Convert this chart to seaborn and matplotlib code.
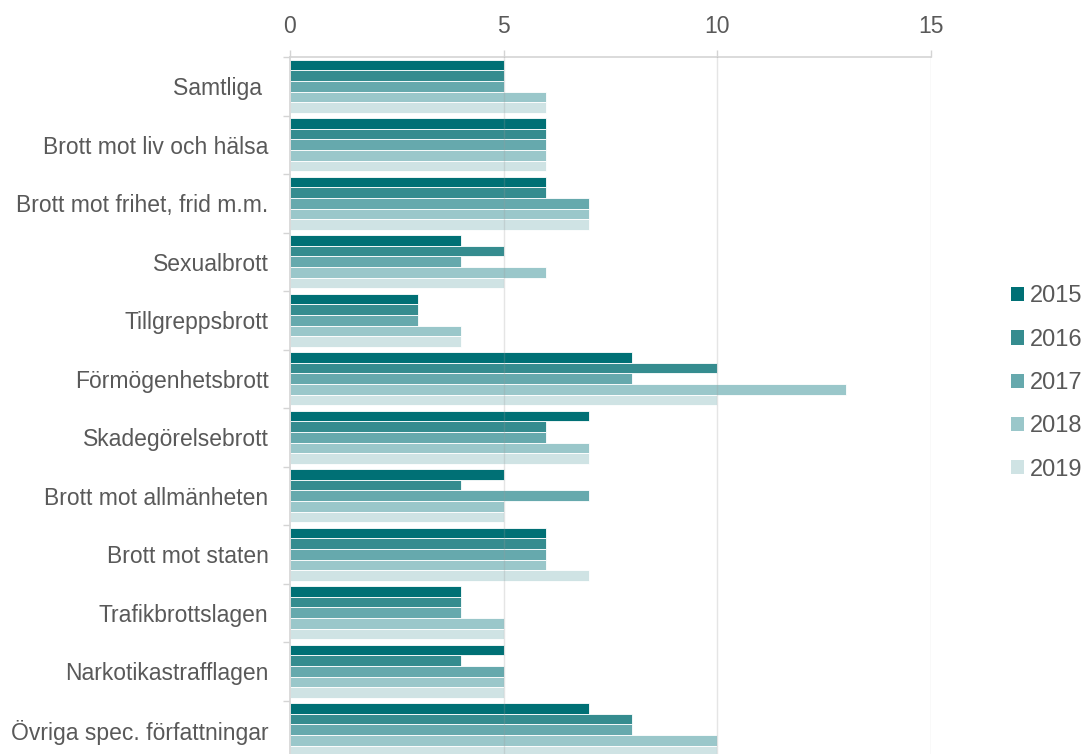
import matplotlib
matplotlib.use("Agg")
import matplotlib.pyplot as plt
import seaborn as sns
import pandas as pd
import numpy as np
from matplotlib.patches import Patch

categories = ["Samtliga ", "Brott mot liv och hälsa", "Brott mot frihet, frid m.m.",
              "Sexualbrott", "Tillgreppsbrott", "Förmögenhetsbrott", "Skadegörelsebrott",
              "Brott mot allmänheten", "Brott mot staten", "Trafikbrottslagen",
              "Narkotikastrafflagen", "Övriga spec. författningar"]
years = ["2015", "2016", "2017", "2018", "2019"]
v2015 = [5, 6, 6, 4, 3, 8, 7, 5, 6, 4, 5, 7]
v2016 = [5, 6, 6, 5, 3, 10, 6, 4, 6, 4, 4, 8]
v2017 = [5, 6, 7, 4, 3, 8, 6, 7, 6, 4, 5, 8]
v2018 = [6, 6, 7, 6, 4, 13, 7, 5, 6, 5, 5, 10]
v2019 = [6, 6, 7, 5, 4, 10, 7, 5, 7, 5, 5, 10]
x_ticks = [0, 5, 10, 15]

colors = ["#007075", "#358C8F", "#66A9AD", "#9AC7CA", "#CFE3E4"]

rows = []
for y, vals in zip(years, [v2015, v2016, v2017, v2018, v2019]):
    for c, v in zip(categories, vals):
        rows.append({"Kategori": c, "År": y, "Värde": v})
df = pd.DataFrame(rows)

sns.set_theme(style="white")
plt.rcParams["font.family"] = ["Liberation Sans", "DejaVu Sans"]

fig = plt.figure(figsize=(10.89, 7.54), dpi=100)
ax = fig.add_axes([290/1089, -5/754, (931-290)/1089, (754+5-57)/754])

sns.barplot(data=df, y="Kategori", x="Värde", hue="År", order=categories,
            hue_order=years, palette=colors, orient="h", width=0.9,
            saturation=1, ax=ax, legend=False, linewidth=0.6, edgecolor="white")

ax.set_xlim(0, 15)
ax.set_ylim(len(categories) - 0.5, -0.5)
ax.set_xticks(x_ticks)
ax.xaxis.tick_top()
ax.set_xlabel("")
ax.set_ylabel("")

# Grid lines
for xv in x_ticks[1:]:
    ax.axvline(xv, color="#9a9a9a", lw=1, alpha=0.25, zorder=5)

grey = "#d4d4d4"
for s in ["right", "bottom"]:
    ax.spines[s].set_visible(False)
for s in ["top", "left"]:
    ax.spines[s].set_color(grey)
    ax.spines[s].set_linewidth(1.2)

ax.tick_params(axis="x", which="major", direction="out", length=5, width=1, color=grey,
               labelsize=16.5, labelcolor="#595959", pad=9, top=True, bottom=False)
ax.tick_params(axis="y", which="major", length=0, labelsize=16.5, labelcolor="#595959", pad=15.5)
ax.set_yticks(np.arange(-0.5, len(categories) - 0.5 + 1), minor=True)
ax.tick_params(axis="y", which="minor", direction="out", length=5, width=1, color=grey, left=True)

handles = [Patch(facecolor=c, edgecolor="none", label=y) for c, y in zip(colors, years)]
fig.legend(handles=handles, loc="center left", bbox_to_anchor=(1011/1089, 371/754),
           frameon=False, fontsize=17, labelcolor="#595959", handlelength=0.55,
           handleheight=0.55, handletextpad=0.25, labelspacing=0.9, borderpad=0,
           borderaxespad=0)

fig.savefig("out.png", dpi=100)
